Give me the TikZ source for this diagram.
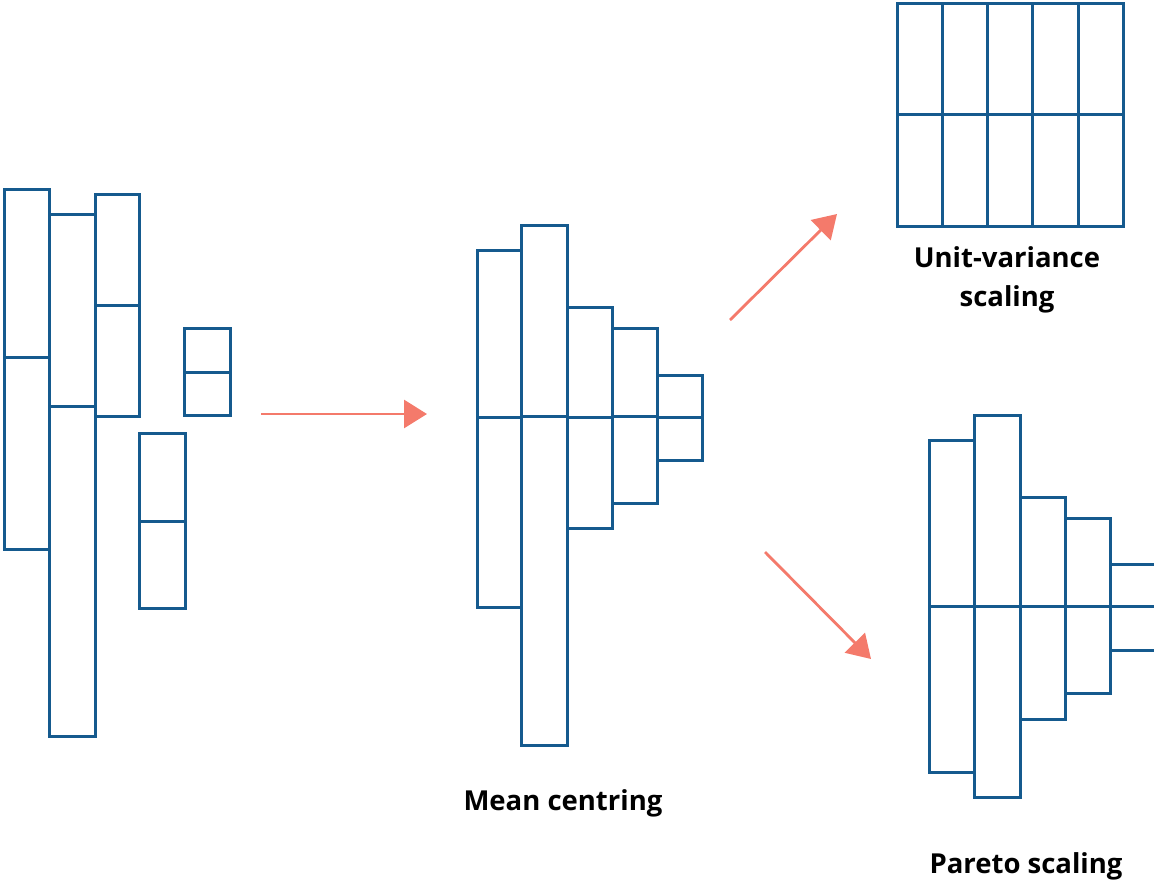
\documentclass[tikz,border=0pt]{standalone}
\usepackage{fontspec}
\setmainfont{Open Sans}
\usetikzlibrary{arrows.meta}
\definecolor{barblue}{HTML}{155A8E}
\definecolor{salmon}{HTML}{F47A6B}
\tikzset{
  bx/.style={draw=barblue, line width=3pt, line join=miter},
  flow/.style={draw=salmon, line width=2.8pt, -{Triangle[length=23pt,width=28pt]}},
  lbl/.style={font=\fontsize{27.5}{39}\selectfont\bfseries, text=black, align=center, inner sep=0pt}
}
% \colbar{x1}{x2}{ytop}{ymid}{ybot}
\newcommand\colbar[5]{\draw[bx] (#1,#3) rectangle (#2,#4); \draw[bx] (#1,#4) rectangle (#2,#5);}
\begin{document}
\begin{tikzpicture}[x=1pt,y=-1pt]
\clip (0,0) rectangle (1154,884);
\useasboundingbox (0,0) rectangle (1154,884);
% raw data
\colbar{4}{49}{189}{357}{549}
\colbar{49}{95}{214}{406}{736}
\colbar{95}{139}{194}{305}{416}
\colbar{184}{230}{328}{372}{415}
\colbar{139}{185}{433}{521}{608}
% mean centring
\colbar{477}{521}{250}{417}{607}
\colbar{521}{567}{225}{416}{745}
\colbar{567}{612}{307}{417}{528}
\colbar{612}{657}{328}{416}{503}
\colbar{657}{702}{375}{417}{460}
% unit variance
\foreach \a/\b in {897/942,942/987,987/1032,1032/1078,1078/1123}{\colbar{\a}{\b}{3}{114}{226}}
% pareto
\colbar{929}{974}{440}{606}{772}
\colbar{974}{1020}{415}{606}{797}
\colbar{1020}{1065}{497}{606}{719}
\colbar{1065}{1110}{518}{606}{693}
\colbar{1110}{1156}{564}{606}{650}
% labels
\node[lbl] (mc) at (563,803) {Mean centring};
\node[lbl] (uv) at (1007,280) {Unit-variance\\scaling};
\node[lbl] (ps) at (1026,866) {Pareto scaling};
% arrows
\coordinate (a1s) at (261,414); \coordinate (a1e) at (427,414);
\coordinate (a2s) at (730,320); \coordinate (a2e) at (837,214);
\coordinate (a3s) at (765,552); \coordinate (a3e) at (871,659);
\draw[flow] (a1s) -- (a1e);
\draw[flow] (a2s) -- (a2e);
\draw[flow] (a3s) -- (a3e);
\end{tikzpicture}
\end{document}
